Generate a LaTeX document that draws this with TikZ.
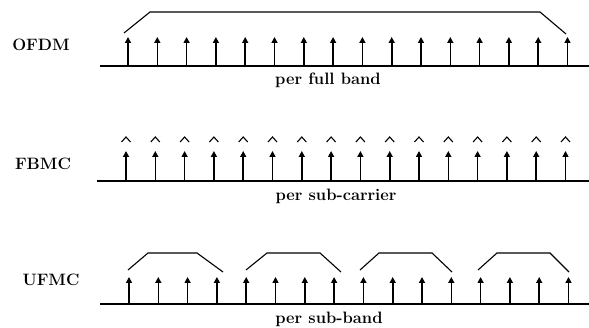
\documentclass[tikz,border=0pt]{standalone}
\usetikzlibrary{arrows.meta,calc}

\begin{document}
\begin{tikzpicture}[x=1pt,y=-1pt,
  every node/.style={font=\bfseries\fontsize{16.5}{18}\selectfont},
  axis/.style={draw,line width=1.5pt},
  carrier/.style={draw,line width=1.6pt,-{Triangle[width=6pt,length=6pt]}},
  envelope/.style={draw,line width=1.1pt},
  caret/.style={draw,line width=1.1pt},
  ]
  \useasboundingbox (0,0) rectangle (589,328);
  % OFDM
  \node (ofdm) at (41,45) {OFDM};
  \coordinate (ofdmL) at (100,66);
  \coordinate (ofdmR) at (589,66);
  \draw[axis] (ofdmL) -- (ofdmR);
  \foreach \i in {0,...,15}{
    \coordinate (ofdmB\i) at (128+29.3*\i,66);
    \coordinate (ofdmT\i) at (128+29.3*\i,37);
    \draw[carrier] (ofdmB\i) -- (ofdmT\i);
  }
  \draw[envelope] (124,33) -- (150,12) -- (540,12) -- (566,34);
  \node (ofdmtxt) at (328,80) {per full band};
  % FBMC
  \node (fbmc) at (43,164) {FBMC};
  \coordinate (fbmcL) at (97,181);
  \coordinate (fbmcR) at (589,181);
  \draw[axis] (fbmcL) -- (fbmcR);
  \foreach \i in {0,...,15}{
    \coordinate (fbmcB\i) at (126+29.3*\i,181);
    \coordinate (fbmcT\i) at (126+29.3*\i,151);
    \draw[carrier] (fbmcB\i) -- (fbmcT\i);
    \draw[caret] ($(fbmcT\i)+(-4.5,-9)$) -- ++(4.5,-5) -- ++(4.5,5);
  }
  \node (fbmctxt) at (336,196) {per sub-carrier};
  % UFMC
  \node (ufmc) at (51,280) {UFMC};
  \coordinate (ufmcL) at (100,304);
  \coordinate (ufmcR) at (589,304);
  \draw[axis] (ufmcL) -- (ufmcR);
  \foreach \i in {0,...,15}{
    \coordinate (ufmcB\i) at (129+29.3*\i,304);
    \coordinate (ufmcT\i) at (129+29.3*\i,277);
    \draw[carrier] (ufmcB\i) -- (ufmcT\i);
  }
  \foreach \a/\b/\c/\d in {128/148/197/223,246/267/320/341,360/379/432/452,478/497/550/569}
    \draw[envelope] (\a,270) -- (\b,253) -- (\c,253) -- (\d,272);
  \node (ufmctxt) at (329,319) {per sub-band};
\end{tikzpicture}
\end{document}
